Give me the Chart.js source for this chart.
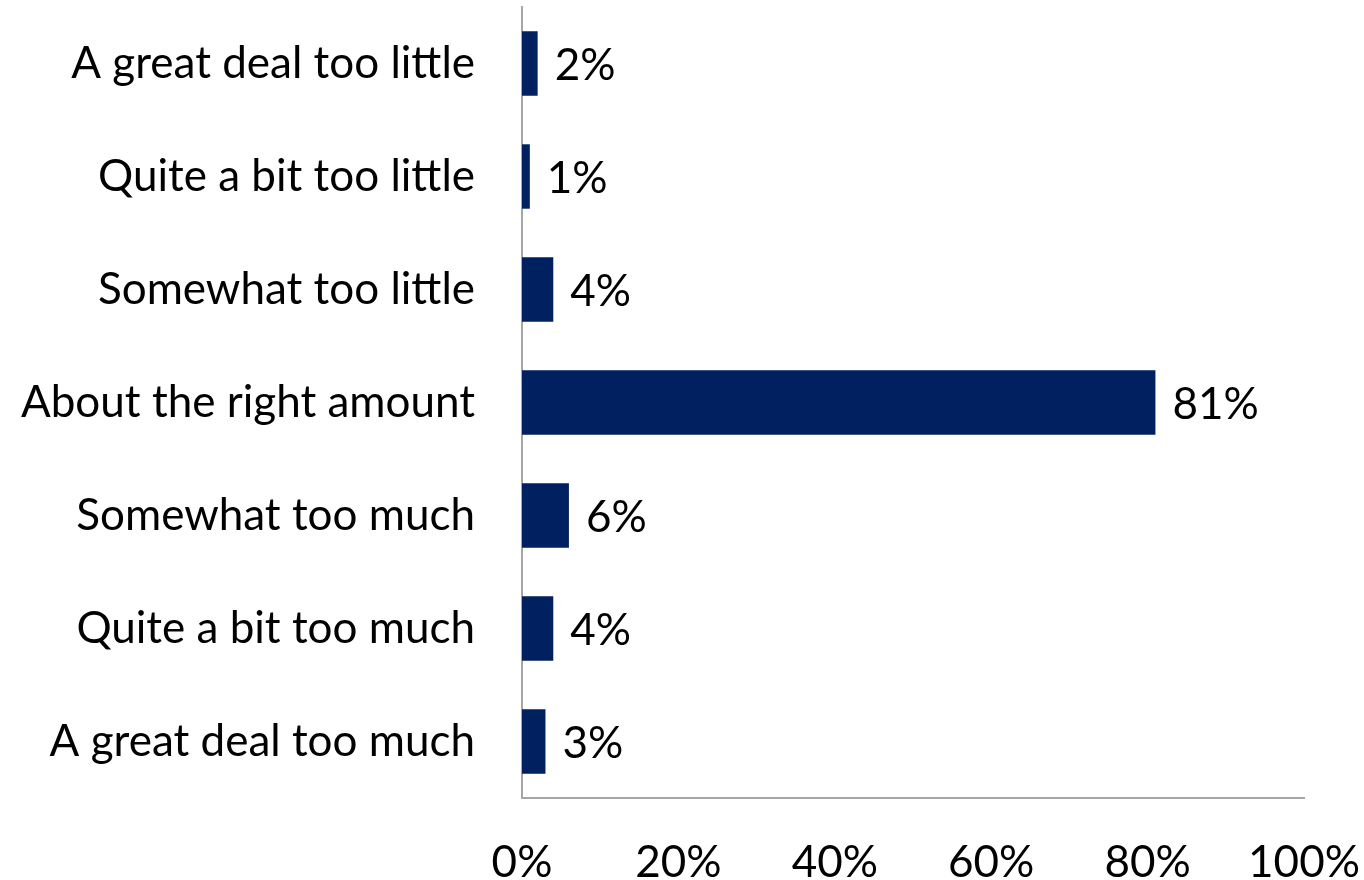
<!DOCTYPE html>
<html>
<head>
<meta charset="utf-8">
<title>Amount of attention</title>
<script src="https://cdn.jsdelivr.net/npm/chart.js@4"></script>
<style>
  html, body { margin: 0; padding: 0; background: #fff; }
  canvas { display: block; }
</style>
</head>
<body>
<canvas id="chart" width="1364" height="880"></canvas>
<script>
// ── Data ──────────────────────────────────────────────────────────────────────

const categories = [
  'A great deal too little',
  'Quite a bit too little',
  'Somewhat too little',
  'About the right amount',
  'Somewhat too much',
  'Quite a bit too much',
  'A great deal too much',
];
const shares = [2, 1, 4, 81, 6, 4, 3];
const xTicks = [0, 20, 40, 60, 80, 100];

// ── Style ─────────────────────────────────────────────────────────────────────

const FONT   = 'Lato, "Open Sans", sans-serif';
const NAVY   = '#002060';
const AXIS   = '#a6a6a6';

// value labels just past the end of each bar
const barLabels = {
  id: 'barLabels',
  afterDatasetsDraw(chart) {
    const { ctx } = chart;
    const meta = chart.getDatasetMeta(0);
    ctx.save();
    ctx.font = `44px ${FONT}`;
    ctx.fillStyle = '#000';
    ctx.textAlign = 'left';
    ctx.textBaseline = 'middle';
    meta.data.forEach((bar, i) => {
      ctx.fillText(shares[i] + '%', bar.x + 17, bar.y + 2);
    });
    ctx.restore();
  },
};

new Chart(document.getElementById('chart'), {
  type: 'bar',
  data: {
    labels: categories,
    datasets: [{
      data:               shares,
      backgroundColor:    NAVY,
      borderWidth:        0,
      categoryPercentage: 0.57,
      barPercentage:      1,
    }],
  },
  options: {
    indexAxis:  'y',
    responsive: false,
    animation:  false,
    layout: { padding: { top: 7, right: 60, left: 0, bottom: 0 } },
    plugins: {
      legend:  { display: false },
      tooltip: { enabled: false },
    },
    scales: {
      x: {
        min: 0,
        max: 100,
        afterBuildTicks: (scale) => { scale.ticks = xTicks.map((v) => ({ value: v })); },
        afterFit: (scale) => {
          scale.height = 82;
          scale.paddingLeft = 0;
          scale.paddingRight = 0;
        },
        grid:   { display: false, drawTicks: false },
        border: { display: true, color: AXIS, width: 2 },
        ticks: {
          padding:  38,
          color:    '#000',
          font:     { family: FONT, size: 44 },
          callback: (v) => v + '%',
          maxRotation: 0,
        },
      },
      y: {
        afterFit: (scale) => {
          scale.width = 522;
          scale.paddingTop = 0;
          scale.paddingBottom = 0;
        },
        grid:   { display: false, drawTicks: false },
        border: { display: true, color: AXIS, width: 2 },
        ticks: {
          padding: 47,
          color:   '#000',
          font:    { family: FONT, size: 44 },
        },
      },
    },
  },
  plugins: [barLabels],
});
</script>
</body>
</html>
